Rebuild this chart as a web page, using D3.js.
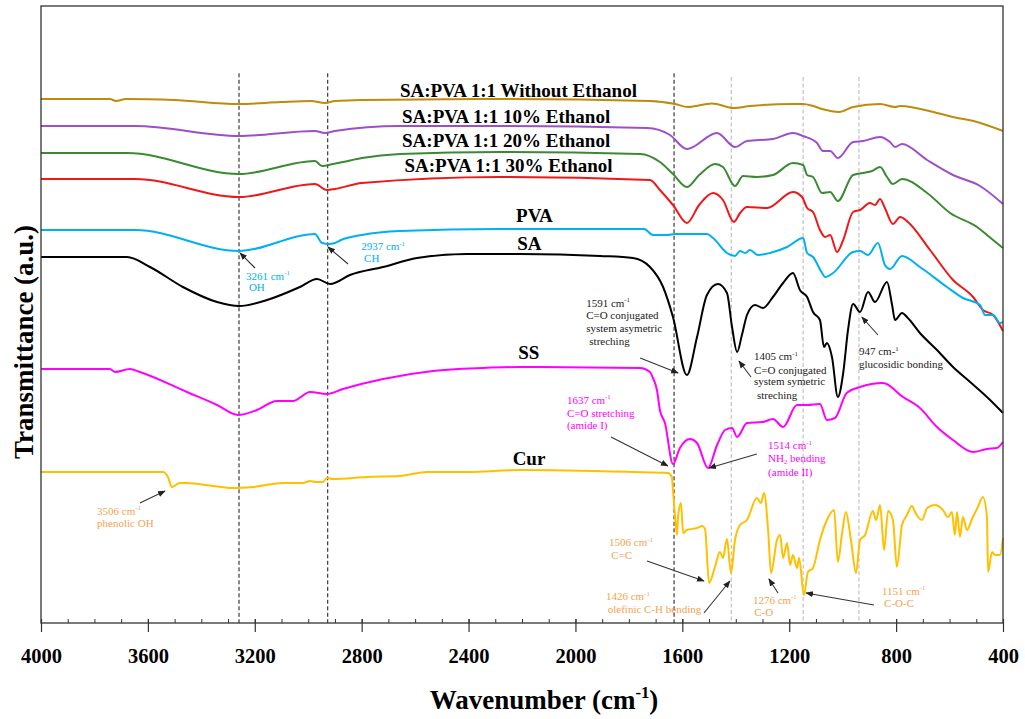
<!DOCTYPE html>
<html>
<head>
<meta charset="utf-8">
<script src="https://cdn.jsdelivr.net/npm/d3@7"></script>
<style>
  body { margin: 0; background: #fff; }
  svg { display: block; }
  text { font-family: "Times New Roman", "Liberation Serif", serif; }
</style>
</head>
<body>
<svg id="chart" width="1025" height="719"></svg>
<script>
// ---- data: [wavenumber (cm-1), transmittance (a.u., offset traces)] ----
var withoutEthanol = [[4000,52.4],[3802,52.4],[3742,52.4],[3719,52.2],[3682,52.4],[3502,52.3],[3259,51.9],[3102,52.1],[2990,52.2],[2937,52.0],[2900,52.2],[2799,52.3],[2282,52.4],[1721,52.2],[1627,51.9],[1579,51.6],[1489,51.95],[1407,51.5],[1347,51.7],[1186,51.9],[1148,51.9],[1111,51.7],[1077,51.4],[1014,51.1],[961,51.6],[860,51.9],[804,51.6],[785,51.7],[647,51.0],[587,50.6],[497,50.1],[400,49.2]];

var ethanol10 = [[4000,49.7],[3648,49.7],[3259,48.7],[2975,49.2],[2937,49.0],[2900,49.2],[2657,49.7],[2282,49.7],[1732,49.5],[1646,48.8],[1583,47.4],[1470,49.0],[1403,47.6],[1358,48.2],[1261,48.4],[1186,49.0],[1148,48.7],[1096,48.0],[1074,47.2],[1047,47.2],[1018,46.5],[961,48.1],[924,48.2],[860,48.6],[823,48.1],[804,47.6],[778,47.9],[684,46.3],[587,44.8],[486,43.7],[400,41.9]];

var ethanol20 = [[4000,47.0],[3678,47.0],[3259,44.9],[2975,46.2],[2948,45.7],[2907,45.9],[2870,46.1],[2799,46.5],[2657,46.9],[2282,47.1],[1758,46.9],[1684,46.1],[1635,44.9],[1583,43.6],[1537,44.8],[1477,45.9],[1448,45.6],[1403,43.7],[1373,44.7],[1321,44.6],[1261,44.8],[1186,46.0],[1148,45.8],[1133,44.8],[1111,44.6],[1077,43.0],[1047,43.1],[1018,42.2],[961,44.8],[924,45.0],[890,45.2],[860,45.6],[834,44.6],[812,43.9],[778,44.4],[684,43.0],[598,41.0],[497,39.6],[460,38.8],[400,37.5]];

var ethanol30 = [[4000,44.4],[3648,44.4],[3259,42.6],[2975,43.9],[2930,43.3],[2900,43.4],[2799,44.0],[2282,44.6],[1721,44.3],[1684,43.3],[1635,41.8],[1583,40.0],[1537,41.8],[1485,43.0],[1448,42.3],[1407,40.1],[1384,41.0],[1358,41.6],[1283,41.5],[1186,43.1],[1152,42.6],[1133,41.5],[1111,41.1],[1085,39.3],[1066,38.6],[1047,38.8],[1021,37.1],[998,38.3],[961,41.1],[935,41.3],[898,42.0],[879,41.8],[860,42.4],[842,41.5],[812,39.9],[785,40.6],[756,40.1],[673,37.3],[587,34.3],[512,32.6],[475,31.3],[437,30.8],[400,29.2]];

var pva = [[4000,39.3],[3648,39.3],[3259,37.2],[2975,38.9],[2948,38.0],[2922,37.9],[2900,38.0],[2877,38.3],[2799,38.8],[2657,39.2],[2282,39.4],[1743,39.4],[1710,38.8],[1657,38.8],[1627,38.9],[1508,38.9],[1485,38.5],[1433,37.0],[1403,36.7],[1384,37.2],[1365,37.0],[1347,37.3],[1317,36.8],[1272,37.0],[1208,37.6],[1148,38.5],[1133,37.0],[1111,36.6],[1077,35.0],[1066,34.6],[1036,35.0],[961,37.1],[935,37.2],[905,36.8],[868,38.0],[842,35.8],[823,35.4],[778,36.7],[711,35.6],[610,33.6],[550,32.5],[486,31.8],[467,30.8],[437,30.8],[411,30.0],[400,30.1]];

var sa = [[4000,36.6],[3678,36.6],[3592,35.6],[3469,33.6],[3341,32.1],[3259,31.7],[3154,32.3],[3031,33.6],[2967,34.4],[2918,33.9],[2844,34.8],[2720,35.6],[2593,36.5],[2406,36.9],[2207,36.9],[1908,36.7],[1785,36.5],[1721,35.6],[1672,33.6],[1635,30.6],[1583,24.8],[1545,28.6],[1508,32.8],[1467,33.9],[1433,33.0],[1414,29.6],[1395,27.1],[1377,28.8],[1358,30.8],[1328,31.8],[1298,31.5],[1261,32.6],[1223,34.0],[1186,35.0],[1160,33.3],[1133,32.6],[1111,31.1],[1085,30.3],[1070,27.6],[1059,28.0],[1040,26.6],[1018,22.6],[998,25.0],[980,29.3],[961,31.9],[935,31.1],[905,33.1],[879,32.1],[834,34.1],[815,31.8],[804,30.3],[778,31.0],[756,30.5],[711,29.0],[647,27.3],[587,25.6],[523,24.1],[460,22.6],[400,21.0]];

var ss = [[4000,25.4],[3742,25.4],[3723,25.1],[3667,25.4],[3630,25.1],[3454,23.1],[3341,21.8],[3263,20.8],[3192,21.3],[3117,22.2],[3057,22.2],[2993,23.1],[2930,22.9],[2870,23.4],[2720,24.4],[2533,25.2],[2346,25.5],[2207,25.6],[1758,25.5],[1721,25.1],[1710,24.5],[1695,23.3],[1684,21.3],[1665,20.0],[1635,15.9],[1609,17.5],[1571,18.4],[1545,18.0],[1504,15.5],[1470,17.8],[1440,19.3],[1414,19.5],[1395,18.6],[1358,20.0],[1298,20.1],[1261,20.4],[1223,19.6],[1171,21.8],[1133,21.8],[1085,21.9],[1059,20.3],[1029,20.5],[985,23.0],[935,23.6],[849,24.0],[774,22.6],[711,21.5],[647,19.6],[587,18.3],[512,17.1],[460,17.4],[423,17.5],[400,18.1]];

var cur = [[4000,15.1],[3543,15.1],[3525,14.6],[3510,13.6],[3480,14.0],[3454,14.0],[3356,13.7],[3282,13.5],[3207,13.6],[3094,14.0],[3020,14.0],[2993,14.2],[2971,14.1],[2945,14.1],[2930,14.5],[2907,14.4],[2780,14.6],[2657,14.7],[2556,15.1],[2406,15.1],[2207,15.3],[1785,15.1],[1654,15.0],[1639,14.6],[1635,13.3],[1627,10.6],[1620,8.8],[1616,10.6],[1605,12.0],[1597,9.0],[1583,9.3],[1545,9.5],[1526,9.7],[1515,9.4],[1500,4.0],[1478,5.6],[1459,7.1],[1448,6.5],[1433,8.4],[1418,5.0],[1403,8.3],[1384,9.8],[1358,10.3],[1321,12.5],[1306,12.0],[1294,13.0],[1279,9.3],[1268,5.0],[1246,8.3],[1234,8.8],[1223,6.5],[1208,8.0],[1197,5.8],[1186,6.8],[1171,5.5],[1163,6.5],[1145,2.8],[1130,5.1],[1111,5.5],[1085,8.3],[1059,10.3],[1032,11.3],[1018,6.1],[1002,9.0],[988,11.1],[969,8.3],[950,5.0],[935,8.3],[916,8.8],[887,11.2],[875,10.3],[860,11.8],[845,7.3],[830,11.2],[812,10.3],[797,5.6],[778,9.8],[759,10.8],[741,11.7],[729,11.1],[718,10.6],[703,10.3],[684,11.5],[654,11.8],[625,11.3],[606,10.6],[591,11.1],[580,8.8],[572,11.1],[561,8.6],[550,10.6],[535,9.3],[516,10.4],[494,11.6],[475,12.6],[460,10.6],[456,5.1],[441,7.1],[430,6.8],[411,6.8],[400,8.5]];

var seriesNames = ["SA:PVA 1:1 Without Ethanol", "SA:PVA 1:1 10% Ethanol", "SA:PVA 1:1 20% Ethanol", "SA:PVA 1:1 30% Ethanol", "PVA", "SA", "SS", "Cur"];
var seriesData = [withoutEthanol, ethanol10, ethanol20, ethanol30, pva, sa, ss, cur];

var majorTicks = [4000, 3600, 3200, 2800, 2400, 2000, 1600, 1200, 800, 400];
var minorTicks = d3.range(4000, 399, -100);
var blackGuides = [3259, 2927, 1631];
var greyGuides = [1417, 1148, 939];

// ---- look ----
var colors = ["#bd8c0c", "#9d4fc6", "#3b8a33", "#ee1818", "#00b0f0", "#000000", "#ff00ff", "#ffc000"];
// where each series name sits [wavenumber, a.u.]
var labelPos = [[2657,52.65],[2649,50.05],[2649,47.57],[2640,45.13],[2222,40.13],[2218,37.3],[2214,26.37],[2235,15.8]];

var cyanText = "#00b0f0", magText = "#ff00ff", orangeText = "#f5a24e", darkText = "#1a1a1a";

var annotations = [
  {color: cyanText, lines: [["3261 cm^-1",3233,34.35],["OH",3222,33.2]], from: [3199,35.5], to: [3255,37.0]},
  {color: cyanText, lines: [["2937 cm^-1",2802,37.3],["CH",2791,36.1]], from: [2851,35.9], to: [2926,37.6]},
  {color: darkText, lines: [["1591 cm^-1",1960,31.65],["C=O conjugated",1960,30.4],["system asymetric",1960,29.15],["streching",1948,27.85]], from: [1758,26.5], to: [1616,25.0]},
  {color: darkText, lines: [["1405 cm^-1",1332,26.3],["C=O conjugated",1332,24.95],["system symetric",1332,23.8],["streching",1321,22.45]], from: [1343,24.6], to: [1388,26.2]},
  {color: darkText, lines: [["947 cm-^1",939,26.8],["glucosidic bonding",939,25.55]], from: [868,28.8], to: [928,30.6]},
  {color: magText, lines: [["1637 cm^-1",2032,21.95],["C=O stretching",2032,20.6],["(amide I)",2032,19.4]], from: [1867,18.6], to: [1654,15.7]},
  {color: magText, lines: [["1514 cm^-1",1279,17.4],["NH_2 bending",1279,16.1],["(amide II)",1279,14.75]], from: [1321,16.9], to: [1500,15.5]},
  {color: orangeText, lines: [["1506 cm^-1",1874,7.7],["C=C",1866,6.45]], from: [1732,6.2], to: [1519,4.2]},
  {color: orangeText, lines: [["1426 cm^-1",1886,2.3],["olefinic C-H bending",1879,1.05]], from: [1519,1.0], to: [1422,4.2]},
  {color: orangeText, lines: [["1276 cm^-1",1336,1.95],["C-O",1331,0.7]], from: [1242,3.0], to: [1276,4.4]},
  {color: orangeText, lines: [["1151 cm^-1",853,2.85],["C-O-C",845,1.6]], from: [883,1.8], to: [1137,3.0]},
  {color: orangeText, lines: [["3506 cm^-1",3790,10.85],["phenolic OH",3790,9.6]], from: [3630,12.0], to: [3536,13.2]}
];

var margin = {top: 6, right: 22, bottom: 96, left: 41};
var W = 1025, H = 719;
var iw = W - margin.left - margin.right;
var ih = H - margin.top - margin.bottom;

var svg = d3.select("#chart");
svg.append("rect").attr("width", W).attr("height", H).attr("fill", "#fff");

svg.append("defs").append("marker")
  .attr("id", "arrow")
  .attr("viewBox", "0 0 10 10")
  .attr("refX", 9).attr("refY", 5)
  .attr("markerWidth", 7).attr("markerHeight", 7)
  .attr("orient", "auto")
  .append("path")
  .attr("d", "M0,1 L10,5 L0,9 z")
  .attr("fill", "#222");

var g = svg.append("g").attr("transform", "translate(" + margin.left + "," + margin.top + ")");

var x = d3.scaleLinear().domain([4000, 400]).range([0, iw]);
var y = d3.scaleLinear().domain([0, 61.7]).range([ih, 0]);

// guide lines
g.selectAll(".guide-black")
  .data(blackGuides)
  .enter().append("line")
  .attr("x1", d => x(d)).attr("x2", d => x(d))
  .attr("y1", y(54.97)).attr("y2", ih)
  .attr("stroke", "#111").attr("stroke-width", 1)
  .attr("stroke-dasharray", "4,2.5");

g.selectAll(".guide-grey")
  .data(greyGuides)
  .enter().append("line")
  .attr("x1", d => x(d)).attr("x2", d => x(d))
  .attr("y1", y(54.6)).attr("y2", ih)
  .attr("stroke", "#b5b5b5").attr("stroke-width", 1)
  .attr("stroke-dasharray", "4,2.5");

var line = d3.line()
  .x(d => x(d[0]))
  .y(d => y(d[1]))
  .curve(d3.curveMonotoneX);

g.selectAll(".trace")
  .data(seriesData)
  .enter().append("path")
  .attr("class", "trace")
  .attr("d", line)
  .attr("fill", "none")
  .attr("stroke", (d, i) => colors[i])
  .attr("stroke-width", 2)
  .attr("stroke-linejoin", "round");

// series names
g.selectAll(".series-label")
  .data(seriesNames)
  .enter().append("text")
  .attr("x", (d, i) => x(labelPos[i][0]))
  .attr("y", (d, i) => y(labelPos[i][1]))
  .attr("font-size", 19)
  .attr("font-weight", "bold")
  .attr("fill", "#000")
  .text(d => d);

// text with ^superscript and _subscript pieces
function richText(sel, str, size) {
  var parts = str.split(/(\^\S+|_\d)/);
  var cur = 0;
  parts.forEach(function(p) {
    if (!p) return;
    var target = 0, fs = size, txt = p;
    if (p[0] === "^") { target = -size * 0.4; fs = size * 0.62; txt = p.slice(1); }
    else if (p[0] === "_") { target = size * 0.18; fs = size * 0.6; txt = p.slice(1); }
    sel.append("tspan")
      .attr("dy", target - cur)
      .attr("font-size", fs)
      .text(txt);
    cur = target;
  });
}

annotations.forEach(function(a) {
  a.lines.forEach(function(l) {
    var t = g.append("text")
      .attr("x", x(l[1]))
      .attr("y", y(l[2]))
      .attr("font-size", 11)
      .attr("fill", a.color);
    richText(t, l[0], 11);
  });
  g.append("line")
    .attr("x1", x(a.from[0])).attr("y1", y(a.from[1]))
    .attr("x2", x(a.to[0])).attr("y2", y(a.to[1]))
    .attr("stroke", "#333").attr("stroke-width", 1.1)
    .attr("marker-end", "url(#arrow)");
});

// frame
g.append("rect")
  .attr("width", iw).attr("height", ih)
  .attr("fill", "none")
  .attr("stroke", "#333").attr("stroke-width", 1.3);

// x axis: minor ticks point inward, major ticks cross the axis
var minorAxis = g.append("g")
  .attr("transform", "translate(0," + ih + ")")
  .call(d3.axisBottom(x).tickValues(minorTicks).tickSize(-4).tickFormat(""));
minorAxis.select(".domain").remove();
minorAxis.selectAll("line").attr("stroke", "#333");

var majorAxis = g.append("g")
  .attr("transform", "translate(0," + ih + ")")
  .call(d3.axisBottom(x).tickValues(majorTicks).tickSize(9).tickPadding(16).tickFormat(d3.format("d")));
majorAxis.select(".domain").remove();
majorAxis.selectAll("line").attr("y1", -4).attr("stroke", "#333").attr("stroke-width", 1.2);
majorAxis.selectAll("text")
  .attr("font-family", "'Times New Roman', 'Liberation Serif', serif")
  .attr("font-size", 20.5)
  .attr("font-weight", "bold")
  .attr("fill", "#000");

// axis titles
var xt = svg.append("text")
  .attr("x", 544).attr("y", 709)
  .attr("text-anchor", "middle")
  .attr("font-size", 27)
  .attr("font-weight", "bold");
richText(xt, "Wavenumber (cm^-1", 27);
xt.append("tspan").attr("dy", 27 * 0.4).text(")");

svg.append("text")
  .attr("transform", "translate(33,342) rotate(-90)")
  .attr("text-anchor", "middle")
  .attr("font-size", 27)
  .attr("font-weight", "bold")
  .text("Transmittance (a.u.)");
</script>
</body>
</html>
